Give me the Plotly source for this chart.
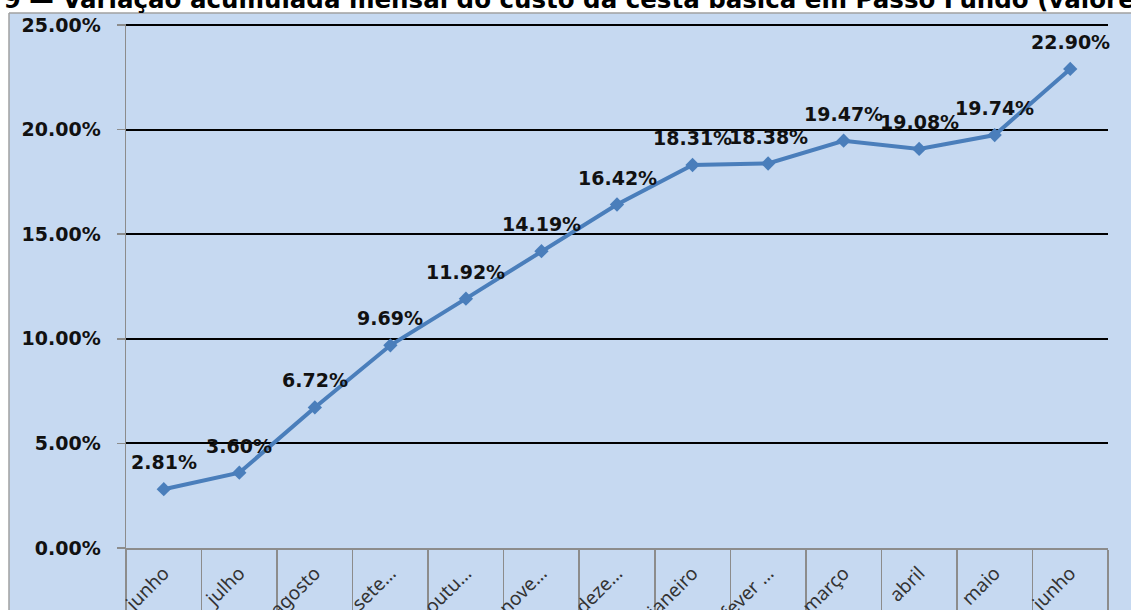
import plotly.graph_objects as go

months = ["junho", "julho", "agosto", "sete…", "outu…", "nove…", "deze…",
          "janeiro", "fever …", "março", "abril", "maio", "junho"]
values = [2.81, 3.60, 6.72, 9.69, 11.92, 14.19, 16.42, 18.31, 18.38, 19.47, 19.08, 19.74, 22.90]
y_ticks = [0, 5, 10, 15, 20, 25]
title_text = "Gráfico 9 — Variação acumulada mensal do custo da cesta básica em Passo Fundo (valores nominais)"

W, H = 1131, 610
ML, MR, MT, MB = 126, 23, 24, 62
PW, PH = W - ML - MR, H - MT - MB

def px_x(p):
    return (p - ML) / PW

def px_y(q):
    return (H - MB - q) / PH

BG = "#C6D9F1"
LINE = "#4A7EBB"
GRAY = "#8C8C8C"
BOLD = "DejaVu Sans"

x = list(range(len(months)))
boundaries = [i - 0.5 for i in range(len(months) + 1)]

fig = go.Figure()
fig.add_trace(go.Scatter(
    x=x, y=values, mode="lines+markers",
    line=dict(color=LINE, width=4),
    marker=dict(symbol="diamond", size=11, color=LINE),
    hoverinfo="skip", showlegend=False,
))

for xi, v in zip(x, values):
    fig.add_annotation(x=xi, y=v, xref="x", yref="y", text=f"<b>{v:.2f}%</b>",
                       showarrow=False, yshift=27, yanchor="middle",
                       font=dict(family=BOLD, size=19, color="#111111"))

# white surroundings and chart-area border
shapes = [
    dict(type="rect", xref="paper", yref="paper", x0=px_x(-20), x1=px_x(9), y0=px_y(H + 20), y1=px_y(-20),
         fillcolor="white", line=dict(width=0), layer="below"),
    dict(type="rect", xref="paper", yref="paper", x0=px_x(-20), x1=px_x(W + 20), y0=px_y(13), y1=px_y(-20),
         fillcolor="white", line=dict(width=0), layer="below"),
    dict(type="line", xref="paper", yref="paper", x0=px_x(9), x1=px_x(9), y0=px_y(13), y1=px_y(H + 5),
         line=dict(color="#A0A0A0", width=1.5)),
    dict(type="line", xref="paper", yref="paper", x0=px_x(9), x1=px_x(W + 5), y0=px_y(13), y1=px_y(13),
         line=dict(color="#A0A0A0", width=1.5)),
]

fig.add_annotation(xref="paper", yref="paper", x=px_x(-105), y=px_y(16), xanchor="left", yanchor="bottom",
                   text=f"<b>{title_text}</b>", showarrow=False,
                   font=dict(family=BOLD, size=24.5, color="black"))

fig.update_layout(
    width=W, height=H, autosize=False,
    margin=dict(l=ML, r=MR, t=MT, b=MB),
    paper_bgcolor=BG, plot_bgcolor=BG,
    shapes=shapes,
    xaxis=dict(
        automargin=False,
        range=[-0.5, len(months) - 0.5],
        tickmode="array", tickvals=x, ticktext=months,
        ticks="", tickangle=-45,
        ticklabelstandoff=5,
        tickfont=dict(family="Noto Sans", size=19, color="#333333"),
        showgrid=False, zeroline=False,
        showline=True, linecolor=GRAY, linewidth=1.5,
        minor=dict(tickmode="array", tickvals=boundaries, ticks="outside", ticklen=70,
                   tickcolor=GRAY, tickwidth=1.5, showgrid=False),
        fixedrange=True,
    ),
    yaxis=dict(
        automargin=False,
        range=[0, 25.05],
        tickmode="array", tickvals=y_ticks, ticktext=[f"<b>{t:.2f}%</b>" for t in y_ticks],
        ticks="outside", ticklen=8, tickcolor=GRAY, tickwidth=1.5,
        ticklabelstandoff=12,
        tickfont=dict(family=BOLD, size=19, color="#111111"),
        showgrid=True, gridcolor="black", gridwidth=2,
        zeroline=True, zerolinecolor=GRAY, zerolinewidth=1.5,
        showline=True, linecolor=GRAY, linewidth=1.5,
        fixedrange=True,
    ),
)

fig.write_html("out.html", config={"staticPlot": True, "responsive": False},
               post_script="document.body.style.margin='0';")
